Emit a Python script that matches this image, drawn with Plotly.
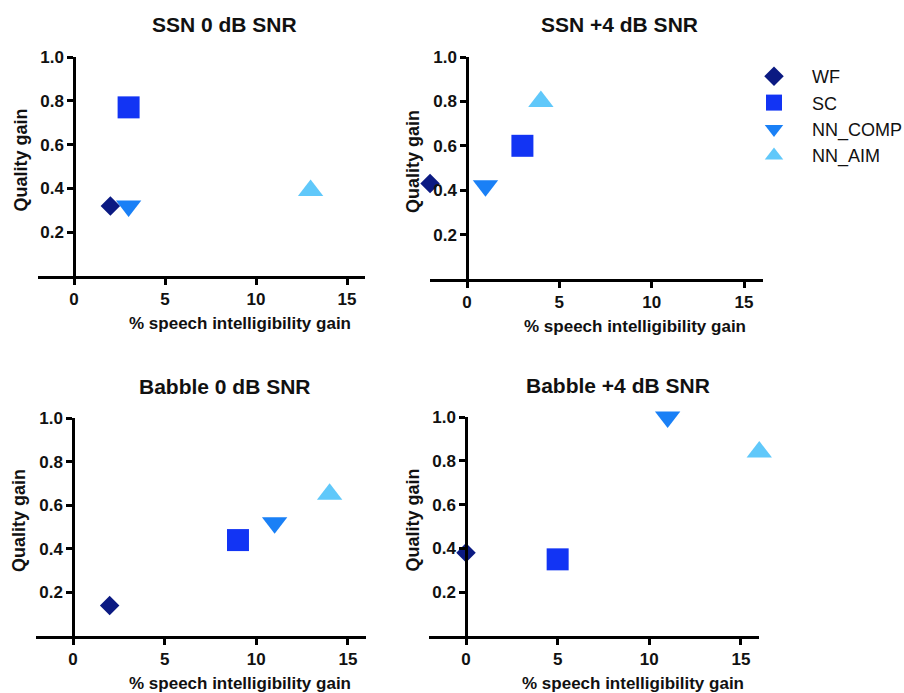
import plotly.graph_objects as go

W, H = 904, 693

methods = ["WF", "SC", "NN_COMP", "NN_AIM"]
colors = ["#0b1a82", "#1234f4", "#1a80f6", "#60c8fa"]
symbols = ["diamond", "square", "triangle-down", "triangle-up"]
sizes = [15, 22, 22, 22]

panel_titles = ["SSN 0 dB SNR", "SSN +4 dB SNR", "Babble 0 dB SNR", "Babble +4 dB SNR"]

# % speech intelligibility gain / quality gain per method, per panel
ssn0_x = [2, 3, 3, 13]
ssn0_y = [0.32, 0.77, 0.32, 0.39]
ssn4_x = [-2, 3, 1, 4]
ssn4_y = [0.43, 0.60, 0.42, 0.80]
bab0_x = [2, 9, 11, 14]
bab0_y = [0.14, 0.44, 0.52, 0.65]
bab4_x = [0, 5, 11, 16]
bab4_y = [0.38, 0.35, 1.00, 0.84]

xs = [ssn0_x, ssn4_x, bab0_x, bab4_x]
ys = [ssn0_y, ssn4_y, bab0_y, bab4_y]

x_ticks = [0, 5, 10, 15]
y_ticks = [0.2, 0.4, 0.6, 0.8, 1.0]
x_title = "% speech intelligibility gain"
y_title = "Quality gain"

# pixel geometry per panel: x=0 pixel, px per unit, y=0 pixel, y=1 pixel
geo = [
    (74, 18.2, 276, 57),
    (467, 18.47, 279, 57),
    (73, 18.33, 636, 418),
    (466, 18.33, 636, 417),
]

FONT = "Liberation Sans, Arial, sans-serif"
TXT = "#111111"

fig = go.Figure()
layout = dict(
    width=W, height=H, margin=dict(l=0, r=0, t=0, b=0, autoexpand=False),
    paper_bgcolor="white", plot_bgcolor="white",
    showlegend=True,
    font=dict(family=FONT, color=TXT),
)
annotations = []

for i in range(4):
    n = "" if i == 0 else str(i + 1)
    xa, ya = "x" + n, "y" + n
    x0, ppu, y0, y1 = geo[i]
    xdom = [(x0 - 2 * ppu) / W, (x0 + 16 * ppu) / W]
    ydom = [1 - y0 / H, 1 - y1 / H]
    for k in range(4):
        fig.add_trace(go.Scatter(
            x=[xs[i][k]], y=[ys[i][k]], mode="markers",
            name=methods[k], showlegend=(i == 0),
            marker=dict(symbol=symbols[k], size=sizes[k], color=colors[k],
                        line=dict(width=0)),
            cliponaxis=False, xaxis=xa, yaxis=ya,
        ))
    layout["xaxis" + n] = dict(
        domain=xdom, range=[-2, 16], anchor=ya,
        tickvals=x_ticks, ticks="outside", ticklen=6, tickwidth=2.5,
        tickcolor="black", showline=True, linecolor="black", linewidth=2.5,
        showgrid=False, zeroline=False, automargin=False,
        tickfont=dict(family=FONT, size=17, weight="bold", color=TXT),
    )
    layout["yaxis" + n] = dict(
        domain=ydom, range=[0, 1], anchor="free", position=x0 / W,
        tickvals=y_ticks, tickformat=".1f", ticks="outside", ticklen=6,
        tickwidth=2.5, tickcolor="black", showline=True, linecolor="black",
        linewidth=2.5, showgrid=False, zeroline=False, automargin=False,
        tickfont=dict(family=FONT, size=17, weight="bold", color=TXT),
    )
    tx = (x0 + (x0 + 16 * ppu)) / 2
    annotations.append(dict(
        text=panel_titles[i], xref="paper", yref="paper",
        x=(tx + 5) / W, y=1 - (y1 - 32) / H, xanchor="center", yanchor="middle",
        showarrow=False, font=dict(family=FONT, size=21, weight="bold", color=TXT),
    ))
    annotations.append(dict(
        text=x_title, xref="paper", yref="paper",
        x=(tx + 20) / W, y=1 - (y0 + 47) / H, xanchor="center", yanchor="middle",
        showarrow=False, font=dict(family=FONT, size=17, weight="bold", color=TXT),
    ))
    annotations.append(dict(
        text=y_title, xref="paper", yref="paper", textangle=-90,
        x=(x0 - 54) / W, y=1 - ((y0 + y1) / 2 - 6) / H, xanchor="center", yanchor="middle",
        showarrow=False, font=dict(family=FONT, size=18, weight="bold", color=TXT),
    ))

layout["annotations"] = annotations
layout["legend"] = dict(
    x=736 / W, y=1 - 58 / H, xanchor="left", yanchor="top",
    font=dict(family=FONT, size=18, color=TXT),
    itemwidth=66, tracegroupgap=0, bgcolor="rgba(0,0,0,0)",
)
fig.update_layout(**layout)
fig.write_html("out.html")
